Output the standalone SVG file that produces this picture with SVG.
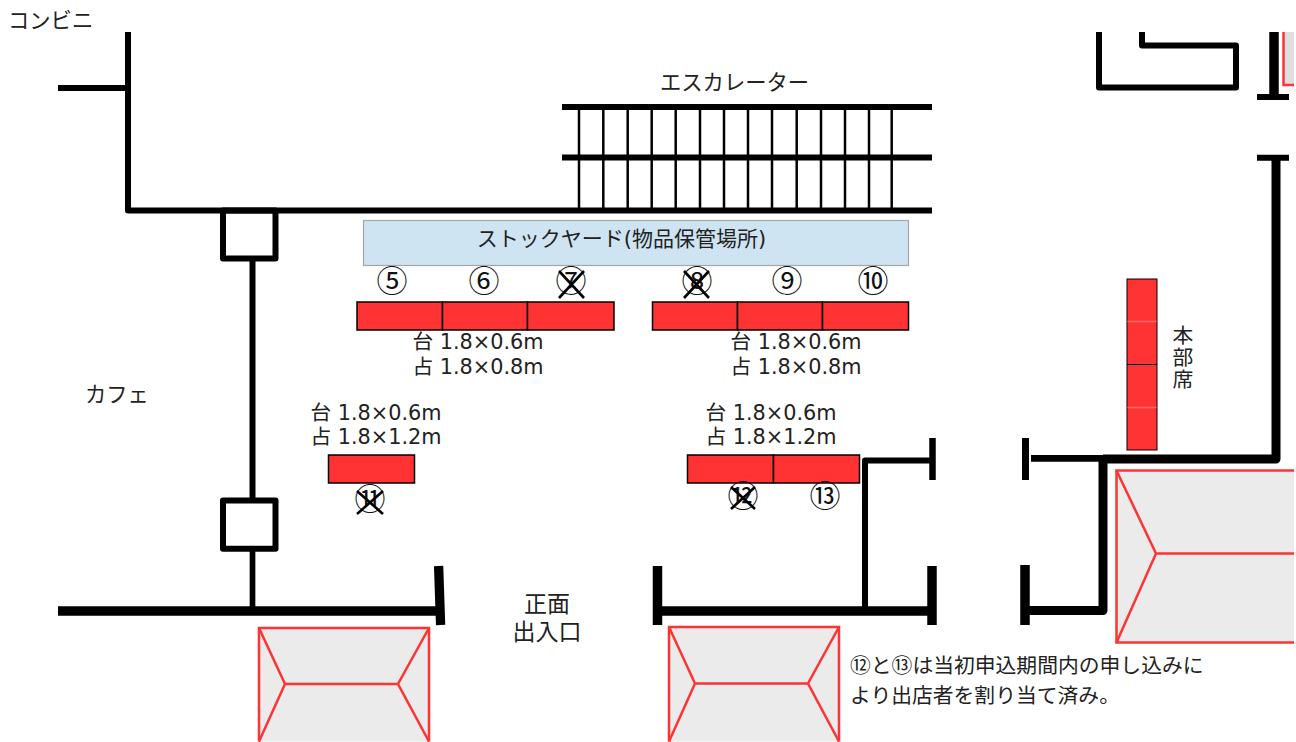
<svg xmlns="http://www.w3.org/2000/svg" width="1296" height="742" viewBox="0 0 1296 742">
<style>
text{font-family:"DejaVu Sans","Noto Sans CJK JP",sans-serif;fill:#222;font-size:20.800px}
.c{text-anchor:middle}
.j{font-size:21.300px}
.e{font-size:23px}
.w{fill:none;stroke:#000;stroke-linejoin:round}
.t{stroke-width:6}
.b{fill:#ff3333;stroke:#000;stroke-width:1.500}
.x{stroke:#000;stroke-width:2.600;fill:none}
.f{fill:#ebebeb;stroke:none}
.rl{fill:none;stroke:#ff3333;stroke-width:2.500}
.n{font-size:31px;fill:#111;font-family:"Noto Sans CJK JP","DejaVu Sans",sans-serif}
</style>
<rect width="1296" height="742" fill="#fff"/>
<g id="connectors">
<g id="walls">
<path class="w t" d="M58 88H128M128 32V210.500H932"/>
<path class="w t" d="M562 107H932M562 157.500H932"/>
<path class="w t" d="M223 210.500H275.500V258.500H223Z"/>
<path class="w" stroke-width="6" d="M252.500 258V499"/>
<path class="w t" d="M223 500.500H275.500V548.700H223Z"/>
<path class="w" stroke-width="5.700" d="M252.500 549V608"/>
<path class="w" stroke-width="9.500" d="M58 611H440"/>
<path class="w" stroke-width="9.300" d="M438.600 566L440.600 625"/>
<path class="w" stroke-width="9.500" d="M657.500 566V625M932 566V625M1025 565V625"/>
<path class="w" stroke-width="9.500" d="M657 611H932"/>
<path class="w" stroke-width="6" d="M865 608V460.500H932"/>
<path class="w" stroke-width="6.500" d="M932.500 438V480"/>
<path class="w" stroke-width="7" d="M1025.500 438V480"/>
<path class="w" stroke-width="6.700" d="M1031 458.300H1103"/>
<path class="w" stroke-width="9" d="M1103 459H1276V157"/>
<path class="w" stroke-width="9" d="M1026 610.500H1103V458"/>
<path class="w" stroke-width="6" d="M1257 157.700H1289M1257 97H1289"/>
<path class="w" stroke-width="9.500" d="M1274 32V97"/>
<path class="w" stroke-width="6" d="M1099 32V87.500H1236V45.500H1142V32"/>
</g>
<g id="escalator">
<path class="w" stroke-width="2.500" d="M579 107V210M603.300 107V210M627.700 107V210M651.700 107V210M675.700 107V210M700 107V210M724 107V210M748 107V210M772 107V210M796.700 107V210M821 107V210M845 107V210M869 107V210M891.700 107V210"/>
</g>
</g>
<g id="stockyard">
<rect x="363.500" y="220.500" width="545" height="45" fill="#cfe4f2" stroke="#a6a6a6" stroke-width="1.200"/>
<text class="c" x="621.500" y="245.500" style="font-size:21px">ストックヤード(物品保管場所)</text>
</g>
<g id="booths-upper-left">
<rect class="b" x="357" y="302" width="85.500" height="28"/>
<rect class="b" x="442.500" y="302" width="85" height="28"/>
<rect class="b" x="527.500" y="302" width="86.500" height="28"/>
<text class="c n" x="392" y="292">⑤</text>
<text class="c n" x="484" y="292">⑥</text>
<text class="c n" x="571" y="292">⑦</text>
<path class="x" d="M559 271L584 298M584 271L559 298"/>
<text class="c" x="478" y="349">台 1.8×0.6m</text>
<text class="c" x="478" y="374">占 1.8×0.8m</text>
</g>
<g id="booths-upper-right">
<rect class="b" x="652.500" y="302" width="85" height="28"/>
<rect class="b" x="737.500" y="302" width="85" height="28"/>
<rect class="b" x="822.500" y="302" width="86" height="28"/>
<text class="c n" x="697" y="292">⑧</text>
<text class="c n" x="787" y="292">⑨</text>
<text class="c n" x="873" y="292">⑩</text>
<path class="x" d="M684 271L709 298M709 271L684 298"/>
<text class="c" x="796" y="349">台 1.8×0.6m</text>
<text class="c" x="796" y="374">占 1.8×0.8m</text>
</g>
<g id="booth-11">
<rect class="b" x="328.500" y="455" width="86" height="28"/>
<text class="c n" x="370" y="510">⑪</text>
<path class="x" d="M357 491L383 514M383 491L357 514"/>
<text class="c" x="376" y="420">台 1.8×0.6m</text>
<text class="c" x="376" y="444">占 1.8×1.2m</text>
</g>
<g id="booths-12-13">
<rect class="b" x="687.500" y="455" width="86" height="28"/>
<rect class="b" x="773.500" y="455" width="86" height="28"/>
<text class="c n" x="743" y="507">⑫</text>
<text class="c n" x="825" y="507">⑬</text>
<path class="x" d="M731 487L755 509M755 487L731 509"/>
<text class="c" x="771" y="420">台 1.8×0.6m</text>
<text class="c" x="771" y="444">占 1.8×1.2m</text>
</g>
<g id="honbu">
<rect x="1127" y="279" width="30" height="171" fill="#ff3333" stroke="#000" stroke-width="1"/>
<path d="M1127.500 321.500H1156.500M1127.500 407.500H1156.500" stroke="#ff6b6b" stroke-width="1.500"/>
<path d="M1127 364.500H1157" stroke="#000" stroke-width="1"/>
<text class="c" x="1183" y="343">本</text>
<text class="c" x="1183" y="365">部</text>
<text class="c" x="1183" y="387">席</text>
</g>
<g id="stair-bottom-left">
<path class="f" d="M259 628H429V741.500H259Z"/>
<path class="rl" d="M259 741.500V628H429V741.500"/>
<path class="rl" d="M259 628L285 684L259 741.500M429 628L398 684L429 741.500M285 684H398"/>
</g>
<g id="stair-bottom-mid">
<path class="f" d="M669 627H839V741.500H669Z"/>
<path class="rl" d="M669 741.500V627H839V741.500"/>
<path class="rl" d="M669 627L695 683.500L669 741.500M839 627L808 683.500L839 741.500M695 683.500H808"/>
</g>
<g id="stair-right">
<path class="f" d="M1116.500 470.500H1294V642.500H1116.500Z"/>
<path class="rl" d="M1294 470.500H1116.500V642.500H1294"/>
<path class="rl" d="M1116.500 470.500L1156 553.500L1116.500 642.500M1156 553.500H1294"/>
</g>
<g id="stair-top-right">
<path d="M1283.500 32V85H1294V32Z" fill="#dedede"/>
<path d="M1283.500 32V85H1294" fill="none" stroke="#ff3333" stroke-width="2.500"/>
</g>
<g id="labels">
<text class="j" x="8" y="28">コンビニ</text>
<text class="j" x="660" y="90">エスカレーター</text>
<text class="j" x="85" y="402">カフェ</text>
<text class="c e" x="547" y="612">正面</text>
<text class="c e" x="547" y="640">出入口</text>
<text x="850" y="673">⑫と⑬は当初申込期間内の申し込みに</text>
<text x="850" y="703">より出店者を割り当て済み。</text>
</g>
</svg>
